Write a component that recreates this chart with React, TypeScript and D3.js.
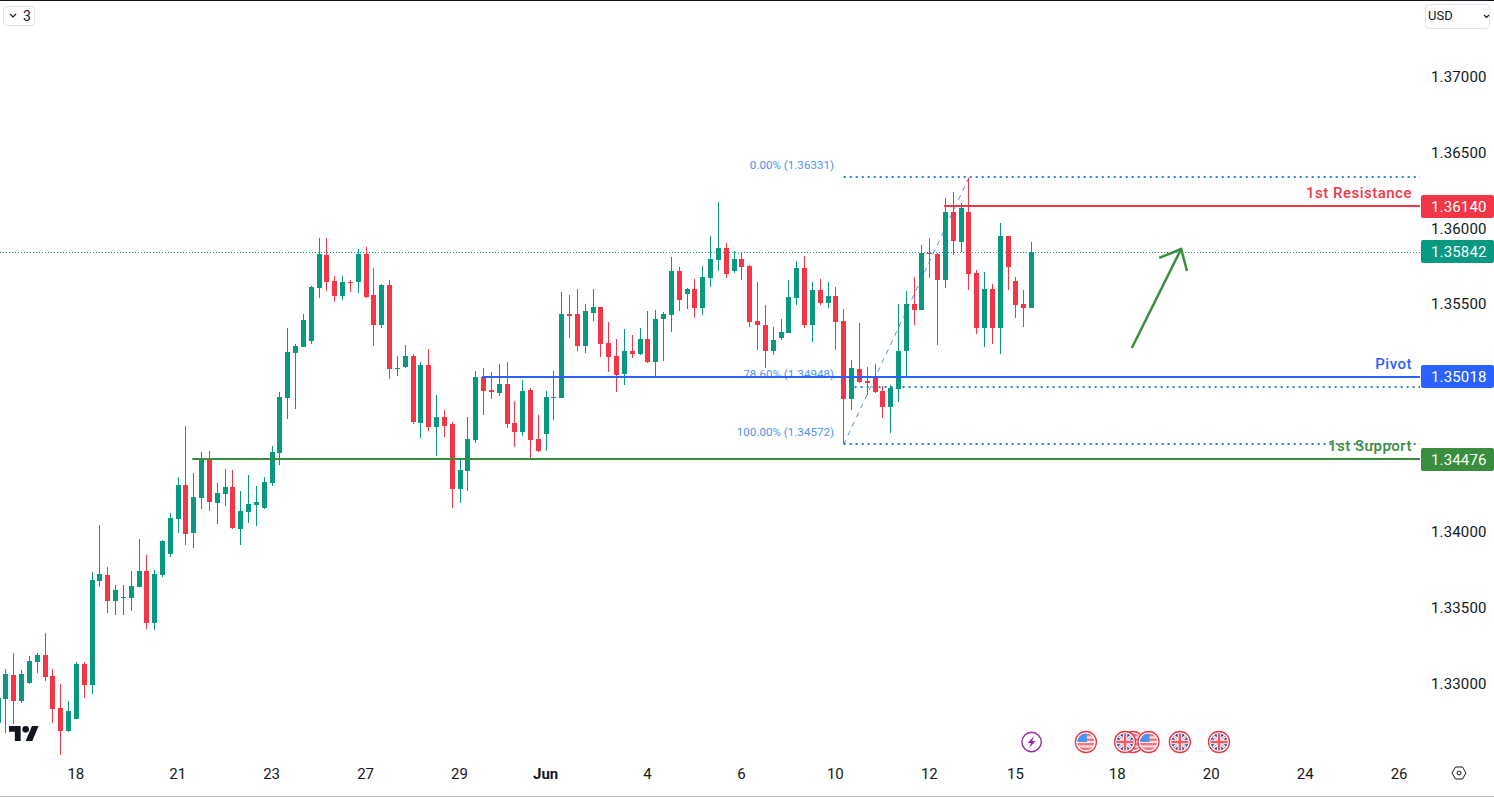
import { useEffect, useRef } from 'react'
import * as d3 from 'd3'

const WIDTH = 1494
const HEIGHT = 797
const PLOT_RIGHT = 1420
const UP = '#089981'
const DOWN = '#f23645'
const BLUE = '#2962ff'
const GREEN = '#388e3c'
const FIB = '#2f7fd8'
const FIB_TEXT = '#4f93ee'
const FONT = 'Roboto, sans-serif'

// 4h bars, the first one sits just off the left edge (bar -1)
const FIRST_BAR = -1
const opens = [
  1.32736, 1.32894, 1.33053, 1.32881, 1.33000, 1.33138, 1.33184, 1.33046, 1.32835, 1.32684, 1.32763,
  1.33125, 1.32987, 1.33672, 1.33712, 1.33540, 1.33560, 1.33560, 1.33633, 1.33738, 1.33395, 1.33712,
  1.33850, 1.34081, 1.34305, 1.33988, 1.34219, 1.34476, 1.34186, 1.34245, 1.34292, 1.34015, 1.34127,
  1.34173, 1.34153, 1.34318, 1.34516, 1.34878, 1.35175, 1.35214, 1.35254, 1.35603, 1.35820, 1.35649,
  1.35550, 1.35642, 1.35642, 1.35827, 1.35557, 1.35359, 1.35623, 1.35069, 1.35082, 1.35155, 1.34713,
  1.35095, 1.34687, 1.34753, 1.34707, 1.34278, 1.34397, 1.34601, 1.35016, 1.34931, 1.34911, 1.34970,
  1.34713, 1.34654, 1.34931, 1.34608, 1.34641, 1.34878, 1.34878, 1.35432, 1.35432, 1.35221, 1.35438,
  1.35478, 1.35240, 1.35155, 1.35036, 1.35188, 1.35168, 1.35267, 1.35115, 1.35399, 1.35425, 1.35715,
  1.35563, 1.35596, 1.35471, 1.35669, 1.35787, 1.35867, 1.35715, 1.35794, 1.35748, 1.35385, 1.35359,
  1.35188, 1.35273, 1.35306, 1.35537, 1.35735, 1.35359, 1.35590, 1.35504, 1.35550, 1.35385, 1.34871,
  1.35069, 1.34990, 1.35023, 1.34924, 1.34819, 1.34937, 1.35188, 1.35497, 1.35458, 1.35834, 1.35827,
  1.35656, 1.36104, 1.35906, 1.36104, 1.35702, 1.35339, 1.35596, 1.35339, 1.35946, 1.35649, 1.35497,
  1.35471,
]
const highs = [
  1.32921, 1.33092, 1.33198, 1.33086, 1.33178, 1.33198, 1.33329, 1.33092, 1.32993, 1.32881, 1.33138,
  1.33138, 1.33731, 1.34041, 1.33764, 1.33646, 1.33646, 1.33738, 1.33949, 1.33843, 1.33745, 1.33942,
  1.34120, 1.34357, 1.34693, 1.34384, 1.34522, 1.34529, 1.34318, 1.34410, 1.34404, 1.34265, 1.34371,
  1.34298, 1.34357, 1.34562, 1.34918, 1.35339, 1.35234, 1.35432, 1.35616, 1.35932, 1.35932, 1.35682,
  1.35682, 1.35656, 1.35860, 1.35873, 1.35735, 1.35629, 1.35656, 1.35155, 1.35227, 1.35168, 1.35115,
  1.35201, 1.34898, 1.34799, 1.34720, 1.34476, 1.34753, 1.35056, 1.35076, 1.35049, 1.35102, 1.35115,
  1.34858, 1.34997, 1.34944, 1.34766, 1.34924, 1.35056, 1.35577, 1.35557, 1.35596, 1.35497, 1.35596,
  1.35478, 1.35379, 1.35267, 1.35333, 1.35293, 1.35339, 1.35451, 1.35458, 1.35445, 1.35807, 1.35741,
  1.35603, 1.35662, 1.35748, 1.35946, 1.36170, 1.35899, 1.35847, 1.35840, 1.35754, 1.35642, 1.35491,
  1.35346, 1.35399, 1.35656, 1.35781, 1.35814, 1.35642, 1.35662, 1.35642, 1.35610, 1.35465, 1.35128,
  1.35372, 1.35082, 1.35102, 1.34957, 1.34964, 1.35497, 1.35583, 1.35675, 1.35886, 1.35932, 1.35834,
  1.36196, 1.36236, 1.36163, 1.36331, 1.35722, 1.35708, 1.35629, 1.36031, 1.35946, 1.35675, 1.35590,
  1.35906,
]
const lows = [
  1.32690, 1.32670, 1.32730, 1.32868, 1.32993, 1.33066, 1.33013, 1.32736, 1.32525, 1.32677, 1.32763,
  1.32901, 1.32927, 1.33633, 1.33461, 1.33448, 1.33448, 1.33474, 1.33633, 1.33356, 1.33349, 1.33698,
  1.33830, 1.33988, 1.33909, 1.33890, 1.34147, 1.34133, 1.34048, 1.34166, 1.34015, 1.33909, 1.34054,
  1.34034, 1.34147, 1.34298, 1.34436, 1.34740, 1.34806, 1.35214, 1.35234, 1.35537, 1.35583, 1.35511,
  1.35524, 1.35577, 1.35570, 1.35537, 1.35221, 1.35339, 1.35003, 1.35023, 1.35076, 1.34707, 1.34614,
  1.34661, 1.34496, 1.34621, 1.34153, 1.34186, 1.34265, 1.34581, 1.34766, 1.34871, 1.34891, 1.34680,
  1.34555, 1.34628, 1.34476, 1.34522, 1.34529, 1.34733, 1.34878, 1.35273, 1.35188, 1.35175, 1.35385,
  1.35148, 1.35049, 1.34918, 1.34964, 1.35142, 1.35161, 1.35109, 1.35010, 1.35122, 1.35313, 1.35451,
  1.35465, 1.35405, 1.35425, 1.35610, 1.35715, 1.35669, 1.35702, 1.35656, 1.35346, 1.35194, 1.35076,
  1.35161, 1.35260, 1.35306, 1.35491, 1.35339, 1.35247, 1.35491, 1.35471, 1.35194, 1.34572, 1.34799,
  1.34977, 1.34898, 1.34911, 1.34746, 1.34647, 1.34852, 1.35016, 1.35359, 1.35458, 1.35669, 1.35227,
  1.35603, 1.35820, 1.35840, 1.35590, 1.35300, 1.35214, 1.35234, 1.35168, 1.35590, 1.35405, 1.35346,
  1.35471,
]
const closes = [
  1.32901, 1.33059, 1.32881, 1.33059, 1.33145, 1.33184, 1.33039, 1.32829, 1.32684, 1.32815, 1.33125,
  1.32987, 1.33679, 1.33718, 1.33540, 1.33613, 1.33567, 1.33639, 1.33738, 1.33395, 1.33718, 1.33936,
  1.34087, 1.34305, 1.33982, 1.34226, 1.34476, 1.34193, 1.34252, 1.34292, 1.34021, 1.34133, 1.34179,
  1.34193, 1.34324, 1.34522, 1.34885, 1.35181, 1.35221, 1.35392, 1.35610, 1.35827, 1.35642, 1.35550,
  1.35642, 1.35636, 1.35827, 1.35544, 1.35359, 1.35623, 1.35069, 1.35076, 1.35155, 1.34720, 1.35095,
  1.34687, 1.34753, 1.34693, 1.34278, 1.34404, 1.34608, 1.35016, 1.34924, 1.34918, 1.34970, 1.34707,
  1.34654, 1.34924, 1.34601, 1.34529, 1.34885, 1.34885, 1.35432, 1.35418, 1.35221, 1.35451, 1.35478,
  1.35234, 1.35148, 1.35030, 1.35188, 1.35168, 1.35267, 1.35115, 1.35399, 1.35432, 1.35715, 1.35524,
  1.35596, 1.35471, 1.35675, 1.35794, 1.35867, 1.35695, 1.35794, 1.35741, 1.35379, 1.35359, 1.35188,
  1.35260, 1.35313, 1.35544, 1.35735, 1.35359, 1.35590, 1.35504, 1.35550, 1.35379, 1.34871, 1.35076,
  1.34983, 1.34977, 1.34918, 1.34819, 1.34944, 1.35188, 1.35497, 1.35458, 1.35834, 1.35827, 1.35656,
  1.36104, 1.35913, 1.36130, 1.35695, 1.35339, 1.35596, 1.35339, 1.35946, 1.35741, 1.35491, 1.35471,
  1.35842,
]

const timeTickBars = [9, 22, 34, 46, 58, 69, 82, 94, 106, 118, 129, 142, 154, 166, 178]
const timeTickLabels = ['18', '21', '23', '27', '29', 'Jun', '4', '6', '10', '12', '15', '18', '20', '24', '26']
const priceTicks = [1.37, 1.365, 1.36, 1.355, 1.34, 1.335, 1.33]

const levelNames = ['1st Resistance', 'Pivot', '1st Support']
const levelPrices = [1.3614, 1.35018, 1.34476]
const levelStartBars = [119.8, 60.8, 23.8]
const levelColors = [DOWN, BLUE, GREEN]

const fibLabels = ['0.00% (1.36331)', '78.60% (1.34948)', '100.00% (1.34572)']
const fibPrices = [1.36331, 1.34948, 1.34572]
const fibStartBars = [107, 108.4, 107]
const fibFromBar = 107
const fibToBar = 123

const arrowBars = [143.8, 150.1]
const arrowPrices = [1.35208, 1.3586]
const arrowHeadBars = [147.3, 150.1, 150.85]
const arrowHeadPrices = [1.35801, 1.3586, 1.35715]

const usEventBars = [144, 146, 138]
const ukEventBars = [143, 150, 155]
const boltEventBar = 131

function candleColor(i: number) {
  return closes[i] >= opens[i] ? UP : DOWN
}

export default function App() {
  const svgRef = useRef<SVGSVGElement>(null)

  useEffect(() => {
    if (!svgRef.current) return
    const svg = d3.select(svgRef.current)
    svg.selectAll('*').remove()

    const x = d3.scaleLinear().domain([0, 131]).range([5.9, 1031.6])
    const y = d3.scaleLinear().domain([1.33, 1.37]).range([683, 76])
    const px = (bar: number) => Math.floor(x(bar))
    const py = (price: number) => Math.round(y(price))
    const lineY = (price: number) => Math.round(y(price) - 0.2)

    svg.append('rect').attr('width', WIDTH).attr('height', HEIGHT).attr('fill', '#ffffff')

    // Fib tool sits under the candles
    const fib = svg.append('g')
    fib.append('line')
      .attr('x1', x(fibFromBar)).attr('y1', y(fibPrices[2]))
      .attr('x2', x(fibToBar)).attr('y2', y(fibPrices[0]))
      .attr('stroke', FIB_TEXT).attr('stroke-dasharray', '5 5')
    fibPrices.forEach((p, i) => {
      fib.append('line')
        .attr('x1', x(fibStartBars[i])).attr('x2', PLOT_RIGHT)
        .attr('y1', lineY(p)).attr('y2', lineY(p))
        .attr('stroke', FIB).attr('stroke-width', 2).attr('stroke-dasharray', '2 4')
      fib.append('text')
        .attr('x', 834).attr('y', y(p) - 12)
        .attr('text-anchor', 'end')
        .attr('dominant-baseline', 'middle')
        .attr('font-family', FONT).attr('font-size', 11.6)
        .attr('fill', FIB_TEXT)
        .text(fibLabels[i])
    })

    // Last price line
    svg.append('line')
      .attr('x1', 0).attr('x2', PLOT_RIGHT)
      .attr('y1', py(closes[closes.length - 1]) + 0.5).attr('y2', py(closes[closes.length - 1]) + 0.5)
      .attr('stroke', UP).attr('stroke-dasharray', '1 2')

    // Candles
    const candles = svg.append('g').attr('shape-rendering', 'crispEdges')
    opens.forEach((open, i) => {
      const bar = i + FIRST_BAR
      const cx = px(bar)
      const color = candleColor(i)
      candles.append('rect')
        .attr('x', cx).attr('width', 1)
        .attr('y', py(highs[i])).attr('height', Math.max(1, py(lows[i]) - py(highs[i])))
        .attr('fill', color)
      const top = py(Math.max(open, closes[i]))
      const bottom = py(Math.min(open, closes[i]))
      candles.append('rect')
        .attr('x', cx - 2).attr('width', 5)
        .attr('y', top).attr('height', Math.max(1, bottom - top))
        .attr('fill', color)
    })

    // Support / resistance lines with their names
    levelPrices.forEach((p, i) => {
      svg.append('line')
        .attr('x1', x(levelStartBars[i])).attr('x2', PLOT_RIGHT)
        .attr('y1', lineY(p)).attr('y2', lineY(p))
        .attr('stroke', levelColors[i]).attr('stroke-width', 2)
      svg.append('text')
        .attr('x', 1412).attr('y', lineY(p) - 12)
        .attr('text-anchor', 'end')
        .attr('dominant-baseline', 'middle')
        .attr('font-family', FONT).attr('font-size', 15).attr('font-weight', 500)
        .attr('letter-spacing', 0.5)
        .attr('fill', levelColors[i])
        .text(levelNames[i])
    })

    // Arrow
    const arrowLine = d3.line<[number, number]>().x(d => x(d[0])).y(d => y(d[1]))
    const arrow = svg.append('g').attr('fill', 'none').attr('stroke', GREEN).attr('stroke-width', 2.5)
    arrow.append('path').attr('d', arrowLine(arrowBars.map((b, i) => [b, arrowPrices[i]] as [number, number])))
    arrow.append('path').attr('d', arrowLine(arrowHeadBars.map((b, i) => [b, arrowHeadPrices[i]] as [number, number])))

    // Logo
    const logo = svg.append('g').attr('transform', 'translate(9,722.7) scale(0.833)').attr('fill', '#131722')
    logo.append('path').attr('d', 'M14 22H7V11H0V4h14v18zM28 22h-8l7.5-18h8L28 22z')
    logo.append('circle').attr('cx', 20).attr('cy', 8).attr('r', 4)

    // Event markers
    const defs = svg.append('defs')
    defs.append('clipPath').attr('id', 'flag').append('circle').attr('r', 8.5)
    const eventY = 742

    const marker = (bar: number) => {
      const g = svg.append('g').attr('transform', `translate(${x(bar) - 0.5},${eventY})`)
      g.append('circle').attr('r', 10.5).attr('fill', '#ffffff').attr('stroke', DOWN).attr('stroke-width', 1.3)
      return g
    }
    const usFlag = (bar: number) => {
      const f = marker(bar).append('g').attr('clip-path', 'url(#flag)')
      f.append('rect').attr('x', -9).attr('y', -9).attr('width', 18).attr('height', 18).attr('fill', '#fbe3e4')
      d3.range(4).forEach(k => {
        f.append('rect').attr('x', -9).attr('y', -8 + k * 4.5).attr('width', 18).attr('height', 2.4).attr('fill', '#f4777d')
      })
      f.append('rect').attr('x', -9).attr('y', -9).attr('width', 10).attr('height', 9).attr('fill', '#4a94ee')
    }
    const ukFlag = (bar: number) => {
      const f = marker(bar).append('g').attr('clip-path', 'url(#flag)')
      f.append('rect').attr('x', -9).attr('y', -9).attr('width', 18).attr('height', 18).attr('fill', '#1d4fa8')
      f.append('path').attr('d', 'M-9 -9L9 9M9 -9L-9 9').attr('stroke', '#ffffff').attr('stroke-width', 3)
      f.append('path').attr('d', 'M-9 -9L9 9M9 -9L-9 9').attr('stroke', '#f4777d').attr('stroke-width', 1)
      f.append('path').attr('d', 'M0 -9V9M-9 0H9').attr('stroke', '#ffffff').attr('stroke-width', 4.5)
      f.append('path').attr('d', 'M0 -9V9M-9 0H9').attr('stroke', '#ef5a62').attr('stroke-width', 2.4)
    }
    usEventBars.forEach(usFlag)
    ukEventBars.forEach(ukFlag)
    const bolt = svg.append('g').attr('transform', `translate(${x(boltEventBar)},${eventY})`)
    bolt.append('circle').attr('r', 9.7).attr('fill', '#ffffff').attr('stroke', '#9c27b0').attr('stroke-width', 1.4)
    bolt.append('path').attr('d', 'M2.5 -6L-4 1H-0.5L-2.5 6L4 -1H0.5Z').attr('fill', '#9c27b0')

    // Price axis
    const yAxis = d3.axisRight(y)
      .tickValues(priceTicks)
      .tickFormat(d => d3.format('.5f')(d as number))
      .tickSize(0)
      .tickPadding(0)
    const yG = svg.append('g').attr('transform', 'translate(1431,0.5)').call(yAxis)
    yG.select('.domain').remove()
    yG.selectAll('text')
      .attr('fill', '#131722')
      .attr('font-family', FONT)
      .attr('font-size', 15)
      .attr('letter-spacing', 0.15)

    // Price labels
    const tags = [
      { price: levelPrices[0], color: DOWN },
      { price: closes[closes.length - 1], color: UP },
      { price: levelPrices[1], color: BLUE },
      { price: levelPrices[2], color: GREEN },
    ]
    tags.forEach(t => {
      const cy = y(t.price)
      svg.append('rect')
        .attr('x', 1421).attr('y', Math.round(cy - 11.5))
        .attr('width', 73).attr('height', 23)
        .attr('rx', 2)
        .attr('fill', t.color)
      svg.append('text')
        .attr('x', 1431).attr('y', Math.round(cy - 11.5) + 11.5)
        .attr('dy', '0.35em')
        .attr('font-family', FONT).attr('font-size', 15)
        .attr('letter-spacing', 0.15)
        .attr('fill', '#ffffff')
        .text(d3.format('.5f')(t.price))
    })

    // Time axis
    const xAxis = d3.axisBottom(x)
      .tickValues(timeTickBars)
      .tickFormat((_d, i) => timeTickLabels[i])
      .tickSize(0)
      .tickPadding(0)
    const xG = svg.append('g').attr('transform', 'translate(-1,768)').call(xAxis)
    xG.select('.domain').remove()
    xG.selectAll('text')
      .attr('fill', '#131722')
      .attr('font-family', FONT)
      .attr('font-size', 15)
      .attr('font-weight', (_d, i) => (timeTickLabels[i] === 'Jun' ? 700 : 400))

    // Chrome: frame lines, top buttons, settings
    svg.append('rect').attr('width', WIDTH).attr('height', 1).attr('fill', '#131722')
    svg.append('rect').attr('y', 796).attr('width', WIDTH).attr('height', 1).attr('fill', '#bdbdbd')

    svg.append('rect')
      .attr('x', 3.5).attr('y', 6.5).attr('width', 31).attr('height', 19).attr('rx', 3)
      .attr('fill', '#ffffff').attr('stroke', '#e0e3eb')
    svg.append('path').attr('d', 'M10 14L13 17L16 14').attr('fill', 'none').attr('stroke', '#131722').attr('stroke-width', 1.2)
    svg.append('text').attr('x', 23).attr('y', 21)
      .attr('font-family', FONT).attr('font-size', 14).attr('fill', '#131722').text('3')

    svg.append('rect')
      .attr('x', 1425.5).attr('y', 4.5).attr('width', 64).attr('height', 24).attr('rx', 4)
      .attr('fill', '#ffffff').attr('stroke', '#e0e3eb')
    svg.append('text').attr('x', 1428).attr('y', 20)
      .attr('font-family', FONT).attr('font-size', 13).attr('fill', '#131722').text('USD')
    svg.append('path').attr('d', 'M1484 15L1486.5 17.5L1489 15').attr('fill', 'none').attr('stroke', '#131722').attr('stroke-width', 1.2)

    const gear = svg.append('g').attr('transform', 'translate(1459,773)').attr('fill', 'none').attr('stroke', '#131722')
    gear.append('path').attr('d', 'M-7 0L-3.5 -6H3.5L7 0L3.5 6H-3.5Z')
    gear.append('circle').attr('r', 2)
  }, [])

  return (
    <div style={{ position: 'absolute', left: 0, top: 0 }}>
      <svg ref={svgRef} width={WIDTH} height={HEIGHT} style={{ display: 'block' }} />
    </div>
  )
}
